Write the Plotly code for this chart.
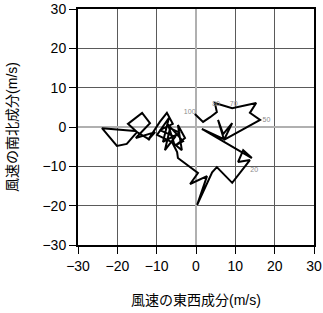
import plotly.graph_objects as go

# hodograph: east-west (u) and north-south (v) wind components, m/s
u = [-11.7, -15.5, -23.9, -20.1, -17.6, -15.0, -17.3, -13.7, -11.7, -15.3,
     -10.4, -12.2, -9.2, -7.4, -5.9, -9.2, -5.3, -7.9, -6.6, -4.1,
     -8.4, -6.9, -9.9, -5.6, -7.1, -3.3,
     -5.1, -2.8, -4.6, -3.6, -6.1, -4.8, -4.6, 0.5, -1.5, 2.8,
     0.3, 4.1, 5.3, 9.2, 13.7, 10.7, 12.0, 14.2, 1.5, 7.1,
     5.6, 6.9, 9.2, 7.1, 16.3, 13.7, 15.3, 9.2, 4.8, 5.3,
     3.6, 1.8, -0.3]
v = [-3.3, -1.0, -0.3, -4.8, -4.3, -1.3, 0.8, 3.6, 1.0, -2.8,
     -1.3, -3.3, 1.3, 3.6, 0.8, -0.8, -2.5, -5.9, -0.3, -1.5,
     -3.8, 2.3, -2.0, -4.1, 0.6, -3.6,
     -4.6, -2.8, 0.5, -5.9, -3.8, -6.4, -7.9, -11.7, -14.5, -12.5,
     -19.8, -11.5, -10.2, -14.2, -8.4, -8.9, -5.9, -7.9, -0.5, -3.1,
     1.8, -1.8, 1.0, -3.3, 1.8, 3.6, 6.1, 4.8, 6.1, 3.8,
     2.5, 1.3, 3.3]

label_text = ["100", "80", "70", "50", "20"]
label_u = [-1.6, 5.1, 9.6, 17.9, 14.8]
label_v = [3.8, 5.7, 5.9, 1.8, -10.9]

tick_vals = [-30, -20, -10, 0, 10, 20, 30]
x_title = "風速の東西成分(m/s)"
y_title = "風速の南北成分(m/s)"

FONT = "Liberation Sans, Arial, Noto Sans CJK JP, sans-serif"

fig = go.Figure()
fig.add_trace(go.Scatter(x=u, y=v, mode="lines",
                         line=dict(color="black", width=2),
                         hoverinfo="skip", showlegend=False))
fig.add_trace(go.Scatter(x=label_u, y=label_v, mode="text", text=label_text,
                         textfont=dict(size=7, color="#8a8a8a", family=FONT),
                         hoverinfo="skip", showlegend=False))

axis_common = dict(
    range=[-30, 30], tickvals=tick_vals, showgrid=True,
    gridcolor="#5a5a5a", gridwidth=1,
    zeroline=True, zerolinecolor="#b0b0b0", zerolinewidth=2,
    showline=True, linecolor="black", linewidth=2, mirror=True,
    ticks="outside", ticklen=7, tickwidth=1, tickcolor="black",
    tickfont=dict(size=14, color="black", family=FONT),
    fixedrange=True, automargin=False,
)

fig.update_layout(
    width=323, height=313,
    margin=dict(l=78, r=9, t=9, b=68),
    plot_bgcolor="white", paper_bgcolor="white",
    xaxis=dict(**axis_common),
    yaxis=dict(**axis_common),
    annotations=[
        dict(text=x_title, xref="paper", yref="paper", x=0.5, y=-0.235,
             xanchor="center", yanchor="middle", showarrow=False,
             font=dict(size=14, color="black", family=FONT)),
        dict(text=y_title, xref="paper", yref="paper", x=-0.28, y=0.5,
             xanchor="center", yanchor="middle", showarrow=False, textangle=-90,
             font=dict(size=14, color="black", family=FONT)),
    ],
)

fig.write_html("out.html")
